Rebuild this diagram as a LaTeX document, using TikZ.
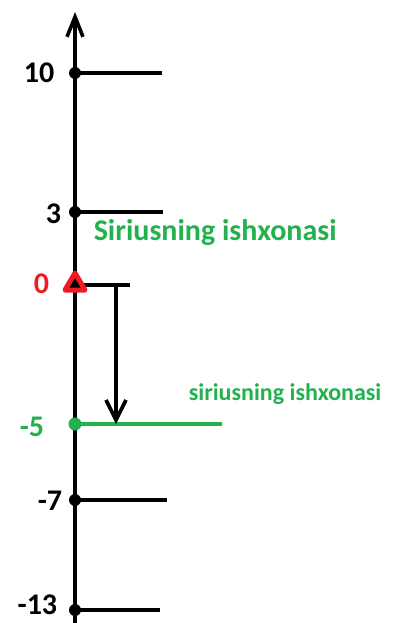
\documentclass[tikz,border=0pt]{standalone}
\usepackage{fontspec}
\setmainfont{Carlito}
\usetikzlibrary{arrows.meta}
\definecolor{paintgreen}{RGB}{34,177,76}
\definecolor{paintred}{RGB}{237,28,36}
\begin{document}
\begin{tikzpicture}[x=1pt,y=-1pt,line width=3.6pt,
  lbl/.style={font=\bfseries\fontsize{30}{36}\selectfont,anchor=east,inner sep=0pt},
  dot/.style={circle,fill,inner sep=0pt,minimum size=12pt}]
\useasboundingbox (0,0) rectangle (396,623);

\coordinate (bot) at (75,623);
\coordinate (top) at (75,12);
\draw[-{Straight Barb[length=20pt,width=16pt]}] (bot) -- (top);

\foreach \n/\y/\len in {10/73/162,3/212/163,m7/500/167,m13/610/160}{
  \coordinate (e\n) at (\len,\y);
  \node[dot] (t\n) at (75,\y) {};
  \draw (t\n.center) -- (e\n);
}

\node[lbl] (l10) at (56,73) {10};
\node[lbl] (l3) at (63,214) {3};
\node[lbl] (lm7) at (64,501) {-7};
\node[lbl] (lm13) at (59,605) {-13};

\node[font=\bfseries\fontsize{30}{36}\selectfont,text=paintgreen,anchor=base west,inner sep=0pt] (big) at (92,240) {Siriusning ishxonasi};

% start point
\coordinate (t0) at (75,285);
\coordinate (e0) at (130,285);
\coordinate (a0) at (116,285);
\draw (t0) -- (e0);
\node[lbl,text=paintred] (l0) at (51,284) {0};

% end point
\node[dot,fill=paintgreen,minimum size=13pt] (tm5) at (75,424) {};
\coordinate (em5) at (222,424);
\coordinate (am5) at (116,424);
\draw[paintgreen,line width=4.5pt] (tm5.center) -- (em5);
\node[lbl,text=paintgreen] (lm5) at (46,427) {-5};
\node[font=\bfseries\fontsize{24}{28}\selectfont,text=paintgreen,anchor=base west,inner sep=0pt] (small) at (187,400) {siriusning ishxonasi};

\draw[-{Straight Barb[length=20pt,width=20pt]}] (a0) -- (am5);

\draw[paintred,fill=black,line width=5pt,line join=round] (75,273) -- (65,290) -- (85,290) -- cycle;
\end{tikzpicture}
\end{document}
